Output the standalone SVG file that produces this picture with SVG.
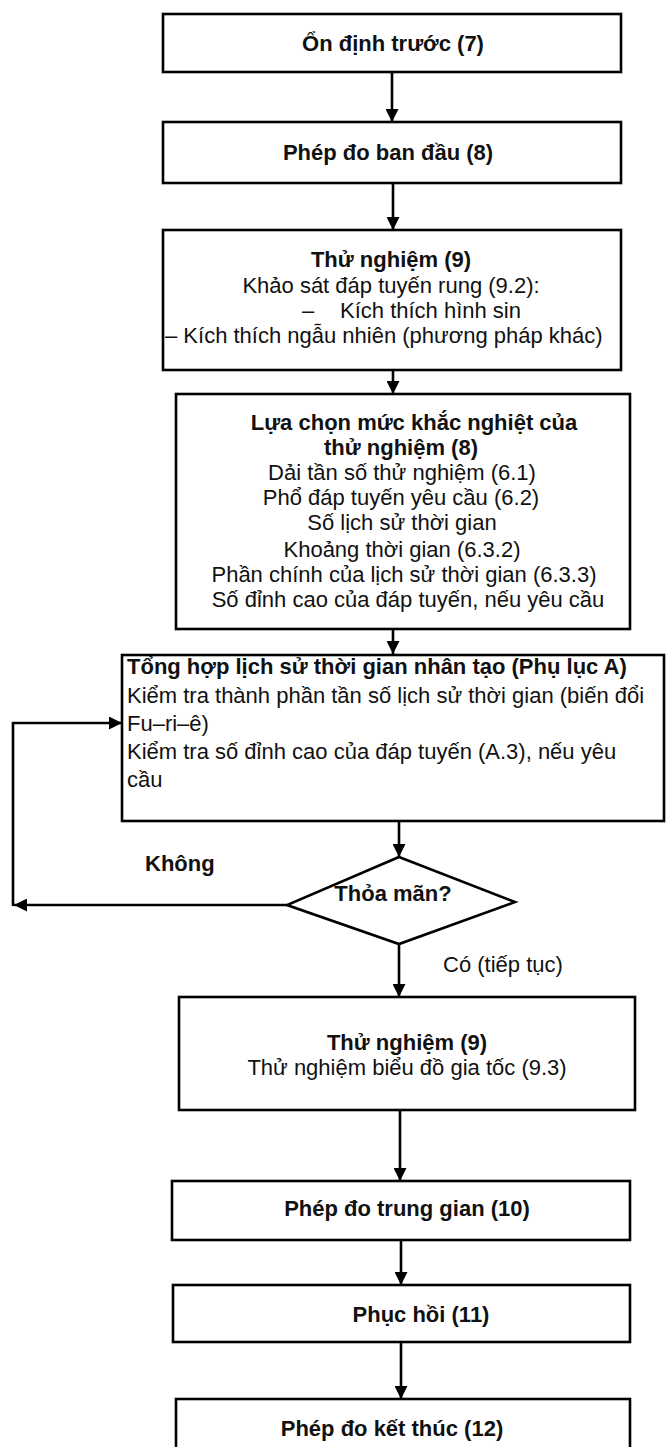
<svg xmlns="http://www.w3.org/2000/svg" width="667" height="1447" viewBox="0 0 667 1447">
<defs>
<style>
.box{fill:#fff;stroke:#000;stroke-width:2.6}
.t{font-family:"Liberation Sans",Arial,sans-serif;font-size:22px;fill:#111}
.b{font-weight:bold}
.c{text-anchor:middle}
.con{fill:none;stroke:#000;stroke-width:2.6}
</style>
<marker id="ah" viewBox="0 0 10 10" refX="10" refY="5" markerWidth="13" markerHeight="13" markerUnits="userSpaceOnUse" orient="auto">
<path d="M0,0 L10,5 L0,10 z" fill="#000"/>
</marker>
</defs>
<rect x="0" y="0" width="667" height="1447" fill="#fff"/>

<g id="connectors">
<line class="con" x1="392" y1="72" x2="392" y2="122" marker-end="url(#ah)"/>
<line class="con" x1="393" y1="183" x2="393" y2="230" marker-end="url(#ah)"/>
<line class="con" x1="393" y1="370" x2="393" y2="394" marker-end="url(#ah)"/>
<line class="con" x1="393" y1="629" x2="393" y2="654" marker-end="url(#ah)"/>
<line class="con" x1="399" y1="821" x2="399" y2="857" marker-end="url(#ah)"/>
<line class="con" x1="399" y1="944" x2="399" y2="997" marker-end="url(#ah)"/>
<line class="con" x1="400" y1="1110" x2="400" y2="1181" marker-end="url(#ah)"/>
<line class="con" x1="401" y1="1240" x2="401" y2="1285" marker-end="url(#ah)"/>
<line class="con" x1="401" y1="1342" x2="401" y2="1399" marker-end="url(#ah)"/>
<line class="con" x1="287" y1="905" x2="14" y2="905" marker-end="url(#ah)"/>
<polyline class="con" points="13,906 13,723 122,723" marker-end="url(#ah)"/>
<text class="t b" x="145" y="871" font-size="21">Không</text>
<text class="t" x="443" y="972">Có (tiếp tục)</text>
</g>

<g id="n1">
<rect class="box" x="163" y="14" width="458" height="58"/>
<text class="t b c" x="393" y="51">Ổn định trước (7)</text>
</g>

<g id="n2">
<rect class="box" x="163" y="122" width="458" height="61"/>
<text class="t b c" x="388" y="160">Phép đo ban đầu (8)</text>
</g>

<g id="n3">
<rect class="box" x="163" y="230" width="458" height="140"/>
<text class="t b c" x="391" y="267">Thử nghiệm (9)</text>
<text class="t c" x="391" y="293">Khảo sát đáp tuyến rung (9.2):</text>
<text class="t" x="302" y="318">–<tspan x="340">Kích thích hình sin</tspan></text>
<text class="t" x="165" y="343">– Kích thích ngẫu nhiên (phương pháp khác)</text>
</g>

<g id="n4">
<rect class="box" x="176" y="394" width="454" height="235"/>
<text class="t b c" x="414" y="430">Lựa chọn mức khắc nghiệt của</text>
<text class="t b c" x="401" y="455">thử nghiệm (8)</text>
<text class="t c" x="402" y="480">Dải tần số thử nghiệm (6.1)</text>
<text class="t c" x="401" y="505">Phổ đáp tuyến yêu cầu (6.2)</text>
<text class="t c" x="402" y="530">Số lịch sử thời gian</text>
<text class="t c" x="402" y="557">Khoảng thời gian (6.3.2)</text>
<text class="t c" x="404" y="582">Phần chính của lịch sử thời gian (6.3.3)</text>
<text class="t c" x="408" y="607">Số đỉnh cao của đáp tuyến, nếu yêu cầu</text>
</g>

<g id="n5">
<rect class="box" x="122" y="655" width="542" height="166"/>
<text class="t b" x="127" y="674">Tổng hợp lịch sử thời gian nhân tạo (Phụ lục A)</text>
<text class="t" x="127" y="703">Kiểm tra thành phần tần số lịch sử thời gian (biến đổi</text>
<text class="t" x="127" y="731">Fu–ri–ê)</text>
<text class="t" x="127" y="759">Kiểm tra số đỉnh cao của đáp tuyến (A.3), nếu yêu</text>
<text class="t" x="127" y="787">cầu</text>
</g>

<g id="n6">
<polygon class="box" points="399,857 515,902 399,944 287,905"/>
<text class="t b c" x="393" y="901" font-size="17">Thỏa mãn?</text>
</g>

<g id="n7">
<rect class="box" x="179" y="997" width="456" height="113"/>
<text class="t b c" x="407" y="1050">Thử nghiệm (9)</text>
<text class="t c" x="407" y="1075">Thử nghiệm biểu đồ gia tốc (9.3)</text>
</g>

<g id="n8">
<rect class="box" x="172" y="1181" width="458" height="59"/>
<text class="t b c" x="407" y="1216">Phép đo trung gian (10)</text>
</g>

<g id="n9">
<rect class="box" x="173" y="1285" width="457" height="57"/>
<text class="t b c" x="421" y="1322">Phục hồi (11)</text>
</g>

<g id="n10">
<rect class="box" x="176" y="1399" width="454" height="70"/>
<text class="t b c" x="392" y="1436">Phép đo kết thúc (12)</text>
</g>
</svg>
